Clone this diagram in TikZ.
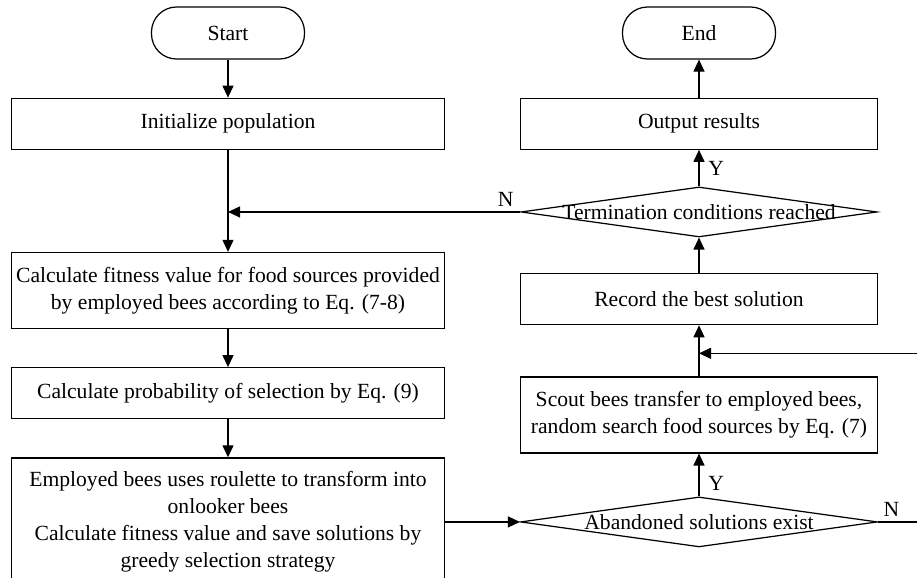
\documentclass[tikz,border=0pt]{standalone}
\usepackage{fontspec}
\setmainfont{Liberation Serif}
\usetikzlibrary{shapes.geometric, arrows.meta, positioning}

\begin{document}
\begin{tikzpicture}[
    line width = 0.7pt,
    every node/.style = {font=\fontsize{12.3}{15.3}\selectfont},
    termbox/.style = {
        rectangle, rounded corners=0.5cm, draw,
        minimum width=3.06cm, minimum height=1.04cm,
        inner sep=0pt
    },
    procbox/.style = {
        rectangle, draw, align=center,
        inner sep=2pt, minimum height=1.02cm
    },
    leftbox/.style = {procbox, minimum width=8.66cm},
    rightbox/.style = {procbox, minimum width=7.14cm},
    decbox/.style = {
        diamond, draw, inner sep=0pt,
        minimum width=7.12cm, minimum height=1.0cm
    },
    arr/.style = {-{Triangle[length=0.24cm, width=0.22cm]}},
    yn/.style = {inner sep=3pt},
]

\useasboundingbox (0,0) rectangle (18.34,-11.54);
\clip (0,0) rectangle (18.34,-11.54);

% Left column
\node[termbox] (start) at (4.56,-0.66) {Start};
\node[leftbox, below=0.76cm of start] (init) {Initialize population};
\node[leftbox, below=2.04cm of init, minimum height=1.52cm] (fit)
    {Calculate fitness value for food sources provided\\by employed bees according to Eq. (7-8)};
\node[leftbox, below=0.76cm of fit] (prob) {Calculate probability of selection by Eq. (9)};
\node[leftbox, below=0.76cm of prob, minimum height=2.56cm] (roul)
    {Employed bees uses roulette to transform into\\onlooker bees\\Calculate fitness value and save solutions by\\greedy selection strategy};

% Right column
\node[termbox] (end) at (13.98,-0.66) {End};
\node[rightbox, below=0.76cm of end] (out) {Output results};
\node[decbox, below=0.73cm of out, label=center:Termination conditions reached] (term) {};
\node[rightbox, below=0.71cm of term] (rec) {Record the best solution};
\node[rightbox, below=1.02cm of rec, minimum height=1.52cm] (scout)
    {Scout bees transfer to employed bees,\\random search food sources by Eq. (7)};
\node[decbox, minimum width=7.14cm, label=center:Abandoned solutions exist] (aband) at (scout |- roul) {};

% Loop points
\coordinate[above=0.46cm of scout.north] (join);
\coordinate[right=1.2cm of aband.east] (outr);

% Arrows
\draw[arr] (start) -- (init);
\draw[arr] (init)  -- (fit);
\draw[arr] (fit)   -- (prob);
\draw[arr] (prob)  -- (roul);
\draw[arr] (roul.east) -- (aband.west);
\draw[arr] (aband) -- node[yn, pos=0.3, right, xshift=2pt] {Y} (scout);
\draw[arr] (scout) -- (rec);
\draw[arr] (rec)   -- (term);
\draw[arr] (term)  -- node[yn, pos=0.5, right, xshift=2pt] {Y} (out);
\draw[arr] (out)   -- (end);
\draw[arr] (term.west) -- node[yn, pos=0.05, above] {N} (term.west -| init.south);
\draw[arr] (aband.east) -- node[yn, pos=0.22, above] {N} (outr) |- (join);

\end{tikzpicture}
\end{document}
